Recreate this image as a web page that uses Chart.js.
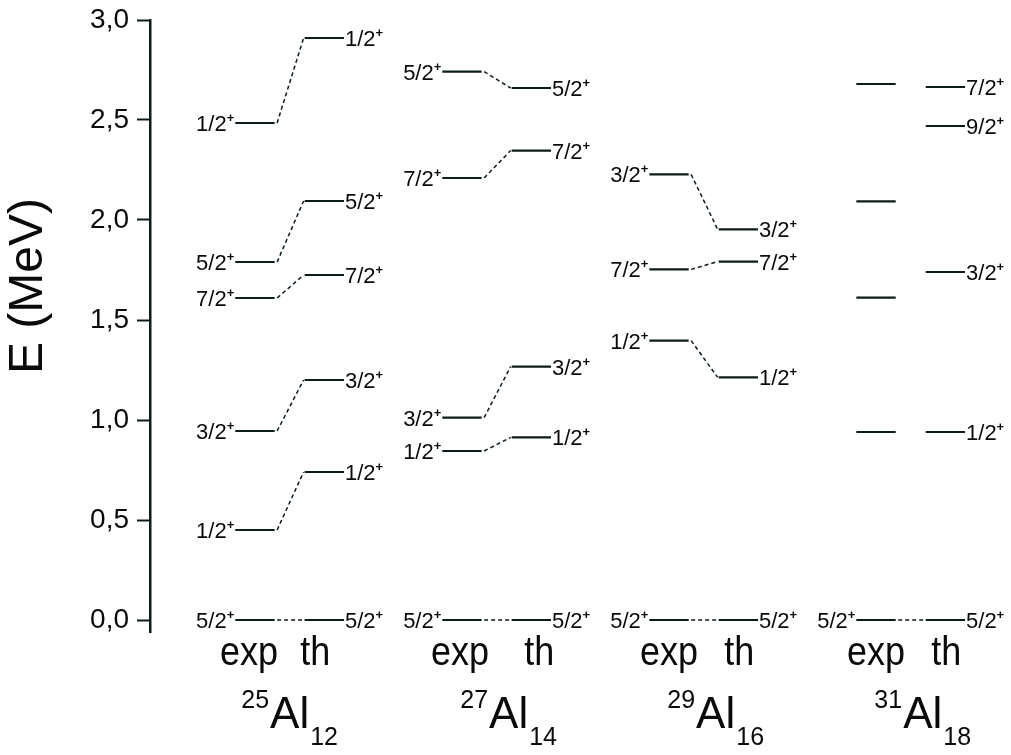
<!DOCTYPE html>
<html><head><meta charset="utf-8">
<script src="https://cdn.jsdelivr.net/npm/chart.js@4.4.0/dist/chart.umd.min.js"></script>
<style>html,body{margin:0;padding:0;background:#fff}canvas{display:block}</style>
</head><body>
<canvas id="c" width="1011" height="755"></canvas>
<script>
// ---------- data ----------
const massNumbers    = ['25', '27', '29', '31'];
const neutronNumbers = ['12', '14', '16', '18'];
const columnLabels   = ['exp', 'th'];
const yTicks         = [0, 0.5, 1.0, 1.5, 2.0, 2.5, 3.0];

const expAl25  = [0, 0.45, 0.945, 1.61, 1.79, 2.485];
const expJAl25 = ['5/2', '1/2', '3/2', '7/2', '5/2', '1/2'];
const thAl25   = [0, 0.74, 1.20, 1.725, 2.095, 2.91];
const thJAl25  = ['5/2', '1/2', '3/2', '7/2', '5/2', '1/2'];
const linkAl25 = [0, 1, 2, 3, 4, 5];

const expAl27  = [0, 0.845, 1.012, 2.21, 2.742];
const expJAl27 = ['5/2', '1/2', '3/2', '7/2', '5/2'];
const thAl27   = [0, 0.913, 1.267, 2.347, 2.66];
const thJAl27  = ['5/2', '1/2', '3/2', '7/2', '5/2'];
const linkAl27 = [0, 1, 2, 3, 4];

const expAl29  = [0, 1.397, 1.753, 2.228];
const expJAl29 = ['5/2', '1/2', '7/2', '3/2'];
const thAl29   = [0, 1.213, 1.792, 1.953];
const thJAl29  = ['5/2', '1/2', '7/2', '3/2'];
const linkAl29 = [0, 1, 2, 3];

const expAl31  = [0, 0.94, 1.612, 2.093, 2.68];
const expJAl31 = ['5/2', '', '', '', ''];
const thAl31   = [0, 0.94, 1.74, 2.47, 2.665];
const thJAl31  = ['5/2', '1/2', '3/2', '9/2', '7/2'];
const linkAl31 = [0];

const expAll  = [expAl25, expAl27, expAl29, expAl31];
const expJAll = [expJAl25, expJAl27, expJAl29, expJAl31];
const thAll   = [thAl25, thAl27, thAl29, thAl31];
const thJAll  = [thJAl25, thJAl27, thJAl29, thJAl31];
const linkAll = [linkAl25, linkAl27, linkAl29, linkAl31];

// ---------- layout / style ----------
const EXP_OFF = 0, TH_OFF = 0.335, HW = 0.095;
const LINE_COL = '#0c1c1c', TEXT_COL = '#0a0a0a';
const FONT = '"Liberation Sans", Arial, sans-serif';

const datasets = [];
expAll.forEach((levels, i) => {
  const xe = i + EXP_OFF, xt = i + TH_OFF;
  levels.forEach(E => datasets.push({
    data: [{x: xe - HW, y: E}, {x: xe + HW, y: E}],
    borderColor: LINE_COL, borderWidth: 2.2, pointRadius: 0, showLine: true
  }));
  thAll[i].forEach(E => datasets.push({
    data: [{x: xt - HW, y: E}, {x: xt + HW, y: E}],
    borderColor: LINE_COL, borderWidth: 2.2, pointRadius: 0, showLine: true
  }));
  linkAll[i].forEach(k => datasets.push({
    data: [{x: xe + HW + 0.012, y: levels[k]}, {x: xt - HW - 0.005, y: thAll[i][k]}],
    borderColor: LINE_COL, borderWidth: 1.5, borderDash: [4, 3], pointRadius: 0, showLine: true
  }));
});

function drawSpin(ctx, txt, px, py, side) {
  ctx.font = '22px ' + FONT;
  const w1 = ctx.measureText(txt).width;
  ctx.font = 'bold 13px ' + FONT;
  const w2 = ctx.measureText('+').width;
  const x0 = side === 'left' ? px - w1 - w2 - 1 : px + 1;
  ctx.textAlign = 'left';
  ctx.textBaseline = 'alphabetic';
  ctx.font = '22px ' + FONT;
  ctx.fillText(txt, x0, py + 8);
  ctx.font = 'bold 13px ' + FONT;
  ctx.fillText('+', x0 + w1, py - 1);
}

const captionShift = [-6, -2, 0, 0];

const labelPlugin = {
  id: 'levelLabels',
  afterDatasetsDraw(chart) {
    const {ctx, scales: {x, y}, chartArea} = chart;
    ctx.save();
    ctx.fillStyle = TEXT_COL;
    expAll.forEach((levels, i) => {
      const xe = i + EXP_OFF, xt = i + TH_OFF;
      levels.forEach((E, k) => {
        if (expJAll[i][k]) drawSpin(ctx, expJAll[i][k], x.getPixelForValue(xe - HW), y.getPixelForValue(E), 'left');
      });
      thAll[i].forEach((E, k) => {
        if (thJAll[i][k]) drawSpin(ctx, thJAll[i][k], x.getPixelForValue(xt + HW), y.getPixelForValue(E), 'right');
      });
      // column captions
      const base = chartArea.bottom;
      ctx.textAlign = 'center';
      ctx.textBaseline = 'alphabetic';
      ctx.font = '36px ' + FONT;
      ctx.save(); ctx.translate(x.getPixelForValue(xe) + captionShift[i], base + 33); ctx.scale(1, 1.15);
      ctx.fillText(columnLabels[0], 0, 0); ctx.restore();
      ctx.save(); ctx.translate(x.getPixelForValue(xt) + (i === 0 ? -9 : (i === 1 ? 8 : 1)), base + 33); ctx.scale(1, 1.15);
      ctx.fillText(columnLabels[1], 0, 0); ctx.restore();
      // nucleus name
      ctx.textAlign = 'left';
      ctx.font = '25px ' + FONT; const ws = ctx.measureText(massNumbers[i]).width;
      const wn = ctx.measureText(neutronNumbers[i]).width;
      ctx.font = '44px ' + FONT; const wa = ctx.measureText('Al').width;
      const cx = (x.getPixelForValue(xe) + x.getPixelForValue(xt)) / 2 + (i === 0 ? 0 : 12);
      let x0 = cx - (ws + wa + 2 + wn) / 2;
      ctx.font = '25px ' + FONT; ctx.fillText(massNumbers[i], x0, base + 76);
      ctx.font = '44px ' + FONT; ctx.fillText('Al', x0 + ws + 1, base + 96);
      ctx.font = '25px ' + FONT; ctx.fillText(neutronNumbers[i], x0 + ws + wa + 2, base + 113);
    });
    ctx.restore();
  },
  afterDraw(chart) {
    const {ctx} = chart;
    ctx.save();
    ctx.fillStyle = TEXT_COL;
    ctx.translate(29, 286);
    ctx.rotate(-Math.PI / 2);
    ctx.textAlign = 'center';
    ctx.textBaseline = 'middle';
    ctx.font = '48px ' + FONT;
    ctx.fillText('E (MeV)', 0, 0);
    ctx.restore();
  }
};

new Chart(document.getElementById('c'), {
  type: 'scatter',
  data: {datasets},
  plugins: [labelPlugin],
  options: {
    responsive: false,
    animation: false,
    devicePixelRatio: 1,
    layout: {padding: {top: 20, bottom: 123, left: 0, right: 0}},
    plugins: {legend: {display: false}, tooltip: {enabled: false}},
    scales: {
      x: {type: 'linear', min: -0.507, max: 3.652, display: false},
      y: {
        type: 'linear', min: -0.06, max: 3.0,
        afterBuildTicks(ax) { ax.ticks = yTicks.map(v => ({value: v})); },
        afterFit(ax) { ax.width = 150; ax.paddingTop = 0; ax.paddingBottom = 0; },
        border: {display: true, color: LINE_COL, width: 2.5},
        grid: {drawOnChartArea: false, drawTicks: true, tickLength: 13, tickColor: LINE_COL, tickWidth: 2},
        ticks: {
          autoSkip: false, color: TEXT_COL, padding: 8,
          font: {family: 'Liberation Sans', size: 28},
          callback: v => v.toFixed(1).replace('.', ',')
        }
      }
    }
  }
});
</script>
</body></html>
